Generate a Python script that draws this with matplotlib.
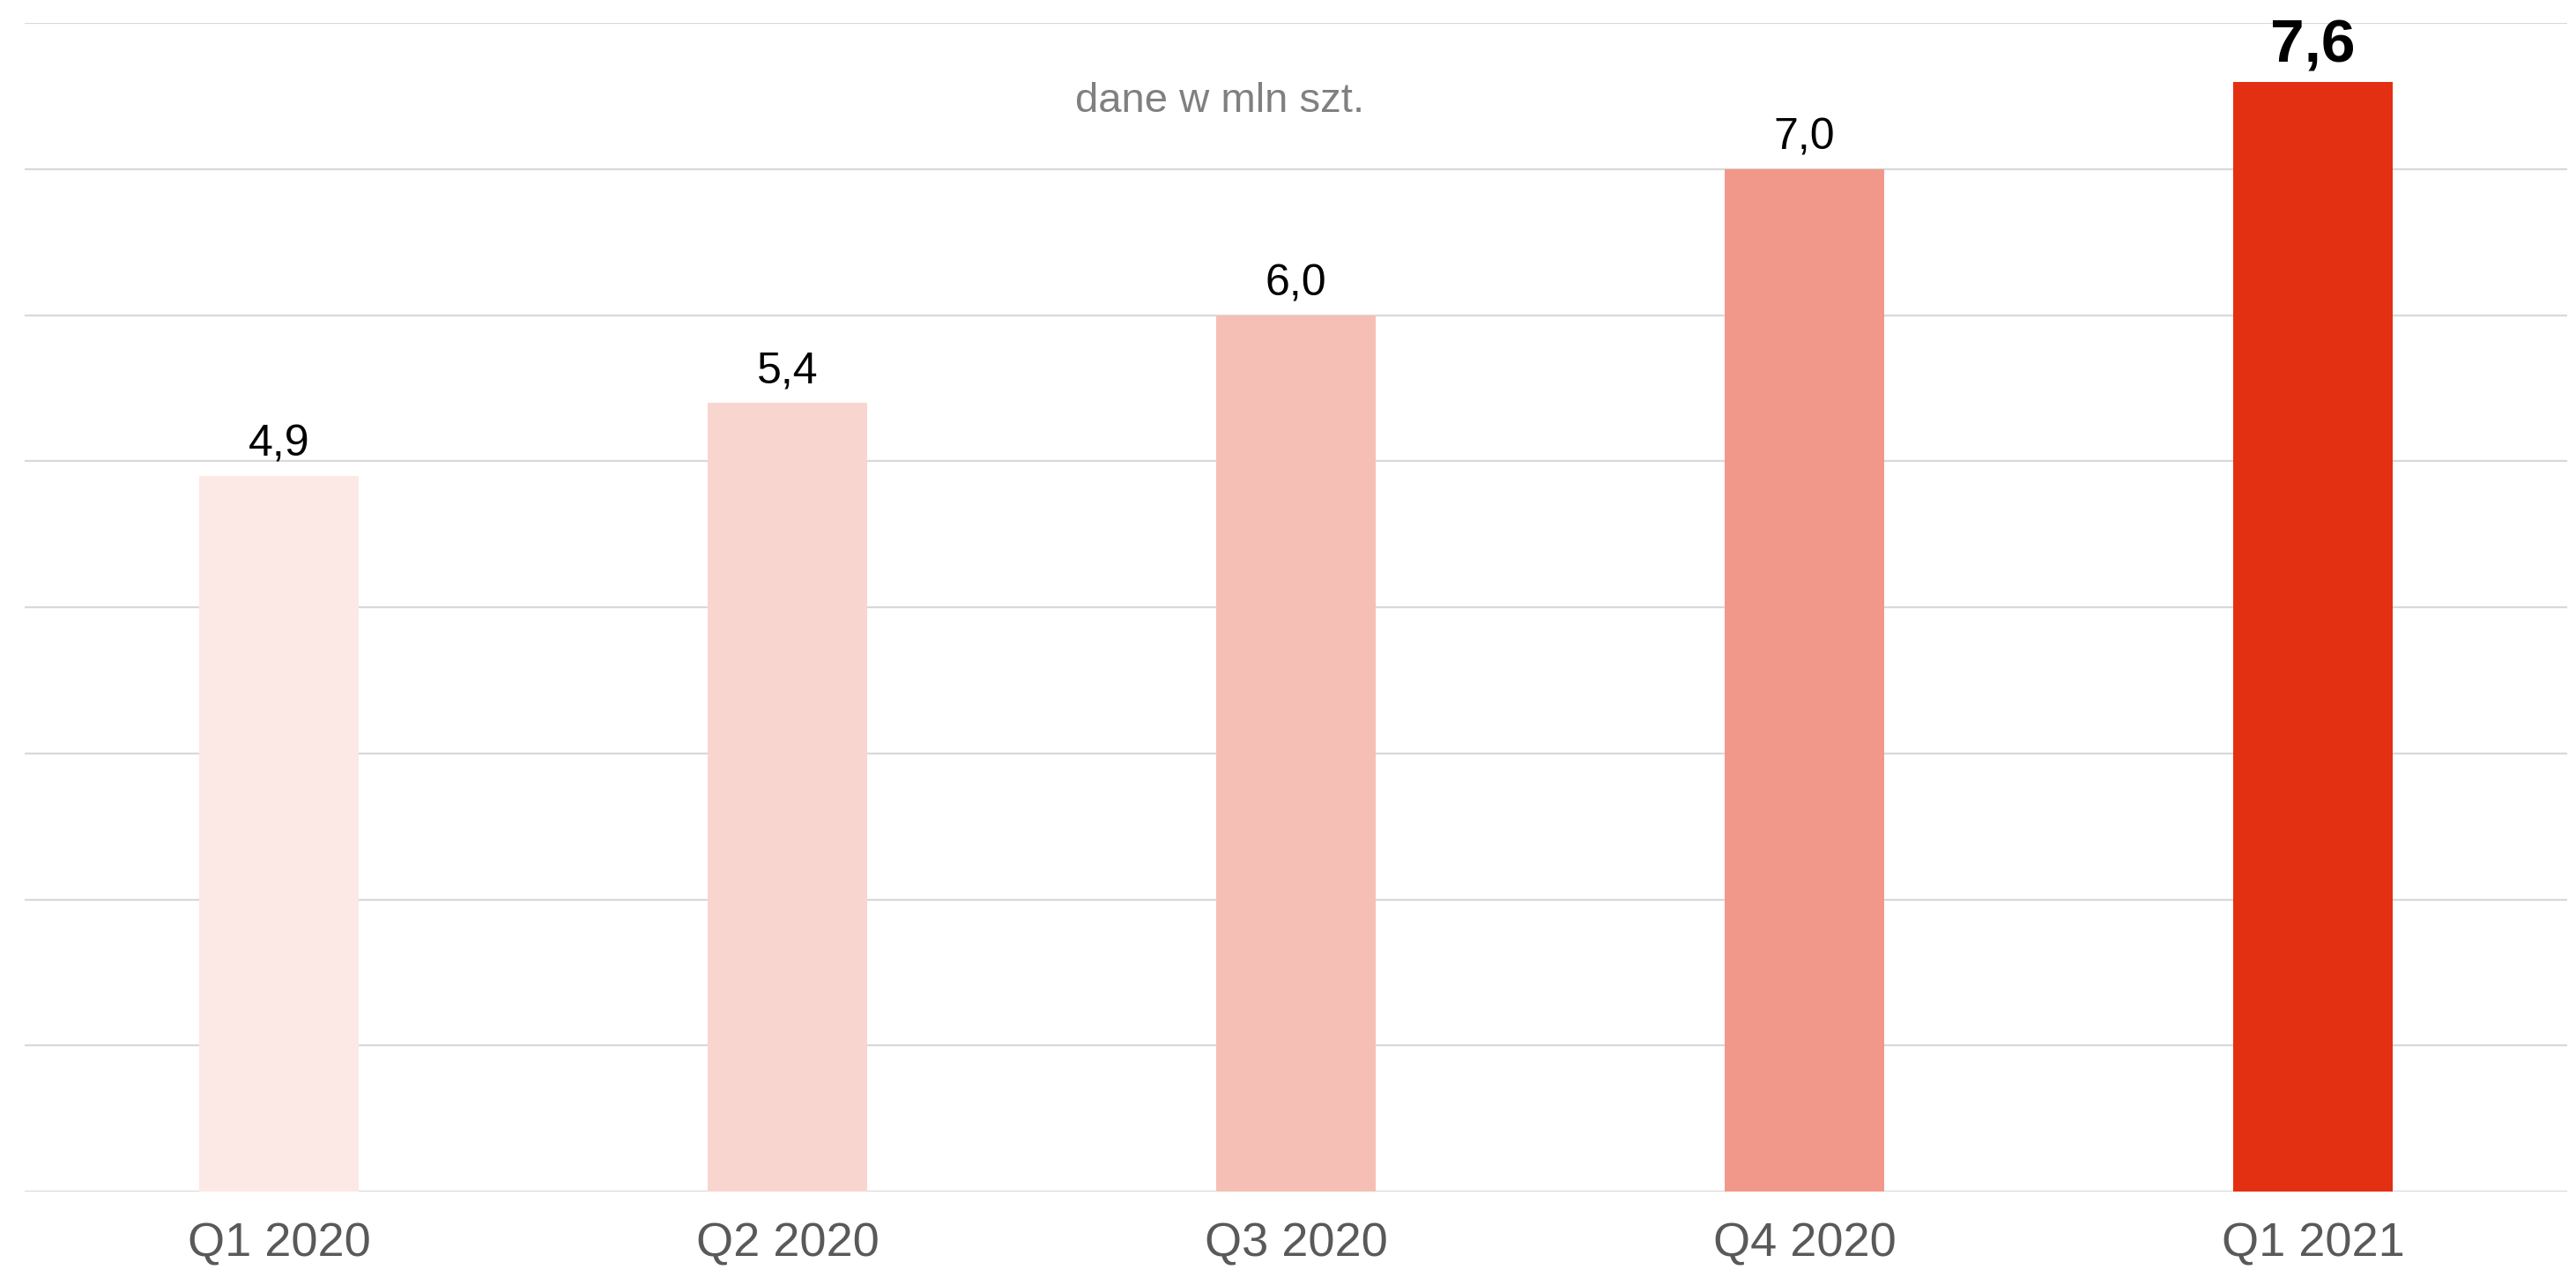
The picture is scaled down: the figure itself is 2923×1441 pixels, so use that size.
import matplotlib
matplotlib.use("Agg")
import matplotlib.pyplot as plt

quarters = ["Q1 2020", "Q2 2020", "Q3 2020", "Q4 2020", "Q1 2021"]
values = [4.9, 5.4, 6.0, 7.0, 7.6]
colors = ["#FCE8E5", "#F9D5CF", "#F6BFB6", "#F2988A", "#E33012"]
note = "dane w mln szt."

plt.rcParams["font.family"] = ["Liberation Sans", "DejaVu Sans"]

fig = plt.figure(figsize=(29.23, 14.41), dpi=100)
ax = fig.add_axes([0.0096, 0.0618, 0.987, 0.920])

x = list(range(len(quarters)))
bars = ax.bar(x, values, width=0.314, color=colors, zorder=2)

for i, (rect, v) in enumerate(zip(bars, values)):
    last = i == len(values) - 1
    ax.annotate(f"{v:.1f}".replace(".", ","),
                (rect.get_x() + rect.get_width() / 2, v),
                textcoords="offset points", xytext=(0, 6 if last else 9),
                ha="center", va="bottom",
                fontsize=50 if last else 36,
                fontweight="bold" if last else "normal", color="black")

ax.set_xlim(-0.5, 4.5)
ax.set_ylim(0, 8)
ax.set_yticks(range(0, 9))
ax.set_yticklabels([])
ax.set_xticks(x)
ax.set_xticklabels(quarters, fontsize=39, color="#595959")
ax.tick_params(axis="both", length=0, pad=25)
ax.grid(True, axis="y", color="#d9d9d9", lw=1.6, zorder=0)
for s in ax.spines.values():
    s.set_visible(False)

ax.text(0.47, 0.933, note, transform=ax.transAxes, ha="center", va="center",
        fontsize=34, color="#808080")

fig.savefig("out.png", dpi=100)
